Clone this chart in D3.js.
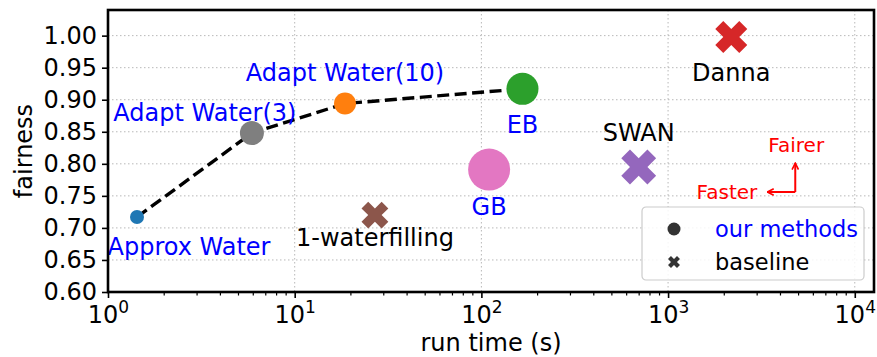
<!DOCTYPE html>
<html><head><meta charset="utf-8">
<script src="https://cdn.jsdelivr.net/npm/d3@7"></script>
<style>body{margin:0;background:#fff}svg{display:block;font-family:"DejaVu Sans",sans-serif}</style>
</head><body><svg id="c" width="877" height="357"></svg>
<script>
// ---- data ----
const ourMethods = ["Approx Water", "Adapt Water(3)", "Adapt Water(10)", "EB", "GB"];
const ourRunTime = [1.43, 5.9, 18.6, 166, 110];
const ourFairness = [0.717, 0.848, 0.894, 0.917, 0.791];
const baselines = ["1-waterfilling", "SWAN", "Danna"];
const baseRunTime = [26.9, 696, 2180];
const baseFairness = [0.72, 0.795, 0.998];
const frontier = ["Approx Water", "Adapt Water(3)", "Adapt Water(10)", "EB"];
const yTicks = [0.60, 0.65, 0.70, 0.75, 0.80, 0.85, 0.90, 0.95, 1.00];
const xTicks = [1, 10, 100, 1000, 10000];
const legendLabels = ["our methods", "baseline"];

// ---- styles ----
const ourColors = ["#1f77b4", "#7f7f7f", "#ff7f0e", "#2ca02c", "#e377c2"];
const ourRadius = [7, 12, 11, 16, 21];
const ourLabelOffset = [[52, 30], [-47, -20], [0, -31], [0, 36], [0, 37]];
const baseColors = ["#8c564b", "#9467bd", "#d62728"];
const baseSize = [450, 760, 640];
const baseLabelOffset = [[0, 23], [0, -34], [0, 36]];

const svg = d3.select("#c");
const L = 108, R = 874, T = 10, B = 292;
const x = d3.scaleLog().domain([1, Math.pow(10, 4.103)]).range([L, R]);
const y = d3.scaleLinear().domain([0.6, 1.04]).range([B, T]);
const FS = 24;

// grid
const grid = svg.append("g").attr("stroke", "#b8b8b8").attr("stroke-width", 1).attr("stroke-dasharray", "1.5,2.5");
yTicks.slice(1).forEach(v => grid.append("line").attr("x1", L).attr("x2", R).attr("y1", y(v)).attr("y2", y(v)));
xTicks.slice(1).forEach(v => grid.append("line").attr("x1", x(v)).attr("x2", x(v)).attr("y1", T).attr("y2", B));

// axes
const xAxis = d3.axisBottom(x).tickValues(xTicks).tickFormat("").tickSizeOuter(0).tickSizeInner(6);
const gx = svg.append("g").attr("transform", `translate(0,${B})`).call(xAxis);
gx.select(".domain").remove();
gx.selectAll(".tick line").attr("stroke-width", 1.6);
// minor ticks
const minors = [];
for (let d = 1; d < 1e4; d *= 10) for (let k = 2; k <= 9; k++) minors.push(d * k);
for (let k = 2; k <= 9; k++) if (1e4 * k <= x.domain()[1]) minors.push(1e4 * k);
svg.append("g").selectAll("line").data(minors).join("line")
  .attr("x1", d => x(d)).attr("x2", d => x(d)).attr("y1", B).attr("y2", B + 3.5)
  .attr("stroke", "#000").attr("stroke-width", 1.2);
gx.selectAll(".tick").each(function(d) {
  const t = d3.select(this).append("text").attr("y", 31).attr("fill", "#000")
    .attr("font-size", FS).attr("text-anchor", "middle").attr("font-family", "DejaVu Sans");
  t.append("tspan").text("10");
  t.append("tspan").attr("dy", -10).attr("font-size", 17).text(Math.round(Math.log10(d)));
});

const yAxis = d3.axisLeft(y).tickValues(yTicks).tickFormat(d3.format(".2f")).tickSizeOuter(0).tickSizeInner(6).tickPadding(5);
const gy = svg.append("g").attr("transform", `translate(${L},0)`).call(yAxis);
gy.select(".domain").remove();
gy.selectAll(".tick line").attr("stroke-width", 1.6);
gy.selectAll(".tick text").attr("font-size", FS).attr("font-family", "DejaVu Sans").attr("fill", "#000");

// axis titles
svg.append("text").attr("x", (L + R) / 2).attr("y", 351).attr("text-anchor", "middle")
  .attr("font-size", FS).text("run time (s)");
svg.append("text").attr("transform", `translate(32,${(T + B) / 2}) rotate(-90)`).attr("text-anchor", "middle")
  .attr("font-size", FS).text("fairness");

// dashed frontier line
const line = d3.line().x(d => x(ourRunTime[ourMethods.indexOf(d)])).y(d => y(ourFairness[ourMethods.indexOf(d)]));
svg.append("path").attr("d", line(frontier)).attr("fill", "none").attr("stroke", "#000")
  .attr("stroke-width", 3.4).attr("stroke-dasharray", "12,5.5");

// our methods
ourMethods.forEach((m, i) => {
  svg.append("circle").attr("cx", x(ourRunTime[i])).attr("cy", y(ourFairness[i])).attr("r", ourRadius[i]).attr("fill", ourColors[i]);
  svg.append("text").attr("x", x(ourRunTime[i]) + ourLabelOffset[i][0]).attr("y", y(ourFairness[i]) + ourLabelOffset[i][1])
    .attr("text-anchor", "middle").attr("dominant-baseline", "central").attr("font-size", FS).attr("fill", "#0000ff").text(m);
});

// baselines
const cross = d3.symbol().type(d3.symbolCross);
baselines.forEach((m, i) => {
  svg.append("path").attr("d", cross.size(baseSize[i])())
    .attr("transform", `translate(${x(baseRunTime[i])},${y(baseFairness[i])}) rotate(45)`).attr("fill", baseColors[i]);
  svg.append("text").attr("x", x(baseRunTime[i]) + baseLabelOffset[i][0]).attr("y", y(baseFairness[i]) + baseLabelOffset[i][1])
    .attr("text-anchor", "middle").attr("dominant-baseline", "central").attr("font-size", FS).attr("fill", "#000").text(m);
});

// annotation arrows
const corner = [4800, 0.756], upTo = 0.801, leftTo = 3400;
const defs = svg.append("defs");
defs.append("marker").attr("id", "ah").attr("viewBox", "0 0 10 10").attr("refX", 9).attr("refY", 5)
  .attr("markerWidth", 8).attr("markerHeight", 8).attr("markerUnits", "userSpaceOnUse").attr("orient", "auto")
  .append("path").attr("d", "M1,1 L9,5 L1,9").attr("fill", "none").attr("stroke", "#ff0000").attr("stroke-width", 2);
svg.append("line").attr("x1", x(corner[0])).attr("y1", y(corner[1])).attr("x2", x(corner[0])).attr("y2", y(upTo))
  .attr("stroke", "#ff0000").attr("stroke-width", 2).attr("marker-end", "url(#ah)");
svg.append("line").attr("x1", x(corner[0])).attr("y1", y(corner[1])).attr("x2", x(leftTo)).attr("y2", y(corner[1]))
  .attr("stroke", "#ff0000").attr("stroke-width", 2).attr("marker-end", "url(#ah)");
svg.append("text").attr("x", x(leftTo) - 10).attr("y", y(corner[1])).attr("text-anchor", "end")
  .attr("dominant-baseline", "central").attr("font-size", 20).attr("fill", "#ff0000").text("Faster");
svg.append("text").attr("x", x(corner[0]) + 1).attr("y", y(upTo) - 18).attr("text-anchor", "middle")
  .attr("dominant-baseline", "central").attr("font-size", 20).attr("fill", "#ff0000").text("Fairer");

// legend
const lg = svg.append("g").attr("transform", "translate(642,207)");
lg.append("rect").attr("width", 222).attr("height", 73).attr("rx", 4).attr("fill", "#fff").attr("fill-opacity", 0.85)
  .attr("stroke", "#cccccc").attr("stroke-width", 1.2);
lg.append("circle").attr("cx", 32).attr("cy", 22).attr("r", 6.5).attr("fill", "#333");
lg.append("path").attr("d", d3.symbol().type(d3.symbolCross).size(90)()).attr("transform", "translate(32,55) rotate(45)").attr("fill", "#333");
legendLabels.forEach((t, i) => {
  lg.append("text").attr("x", 73).attr("y", 22 + i * 33).attr("dominant-baseline", "central")
    .attr("font-size", 22.5).attr("fill", i === 0 ? "#0000ff" : "#000").text(t);
});

// frame
svg.append("rect").attr("x", L).attr("y", T).attr("width", R - L).attr("height", B - T)
  .attr("fill", "none").attr("stroke", "#000").attr("stroke-width", 2.6);
</script></body></html>
